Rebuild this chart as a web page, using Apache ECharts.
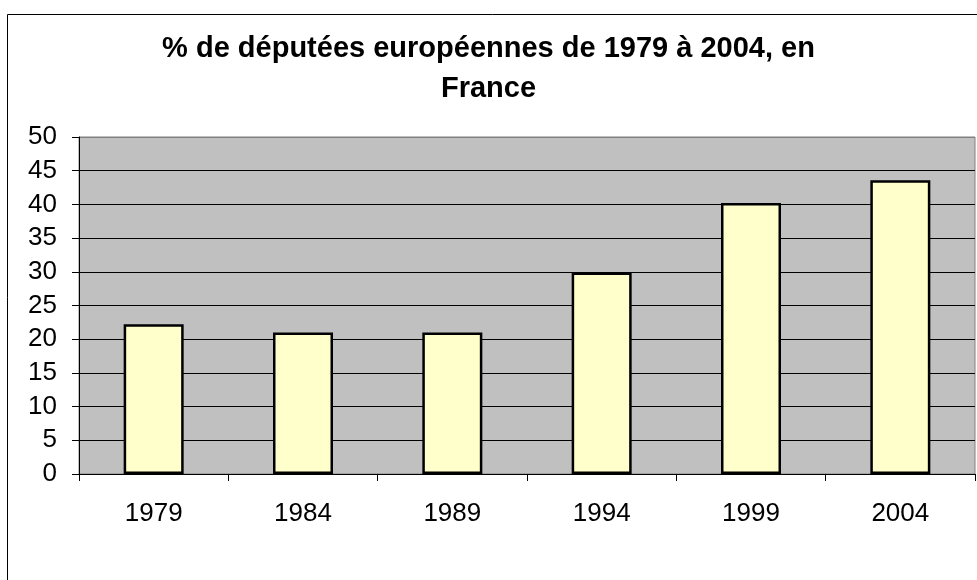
<!DOCTYPE html>
<html>
<head>
<meta charset="utf-8">
<script src="https://cdn.jsdelivr.net/npm/echarts@6/dist/echarts.min.js"></script>
<style>
  html, body { margin: 0; padding: 0; background: #fff; }
  #chart { width: 977px; height: 580px; }
</style>
</head>
<body>
<div id="chart"></div>
<script>
  var years = ['1979', '1984', '1989', '1994', '1999', '2004'];
  var femalePct = [22.2, 21.0, 21.0, 29.9, 40.2, 43.6];
  // black grid lines, except the top edge which is the grey plot border
  var gridColors = ['#000', '#000', '#000', '#000', '#000', '#000', '#000', '#000', '#000', '#000', '#808080'];

  var myChart = echarts.init(document.getElementById('chart'));
  var option = {
    animation: false,
    textStyle: { fontFamily: 'Liberation Sans, Arial, sans-serif' },
    title: {
      text: '% de députées européennes de 1979 à 2004, en\nFrance',
      left: 'center',
      top: 24,
      textStyle: {
        fontSize: 29,
        fontWeight: 'bold',
        color: '#000',
        lineHeight: 40,
        fontFamily: 'Liberation Sans, Arial, sans-serif'
      }
    },
    graphic: [{
      type: 'rect',
      shape: { x: 7.5, y: 14.5, width: 1000, height: 1000 },
      style: { fill: 'none', stroke: '#000', lineWidth: 1 },
      z: -1
    }],
    grid: {
      left: 79,
      top: 137,
      right: 2,
      bottom: 106,
      show: true,
      backgroundColor: '#C0C0C0',
      borderColor: '#808080',
      borderWidth: 1
    },
    xAxis: {
      type: 'category',
      data: years,
      axisLine: { lineStyle: { color: '#000', width: 1 } },
      axisTick: { show: true, length: 7, lineStyle: { color: '#000' } },
      axisLabel: { fontSize: 26, color: '#000', margin: 27 }
    },
    yAxis: {
      type: 'value',
      min: 0,
      max: 50,
      interval: 5,
      axisLine: { show: true, lineStyle: { color: '#000', width: 1 } },
      axisTick: { show: true, length: 7, lineStyle: { color: '#000' } },
      axisLabel: { fontSize: 26, color: '#000', margin: 22 },
      splitLine: { lineStyle: { color: gridColors, width: 1 } }
    },
    series: [{
      type: 'bar',
      data: femalePct,
      barWidth: 60,
      itemStyle: { color: '#FFFFCC', borderColor: '#000', borderWidth: 2.5 }
    }]
  };
  myChart.setOption(option);
</script>
</body>
</html>
